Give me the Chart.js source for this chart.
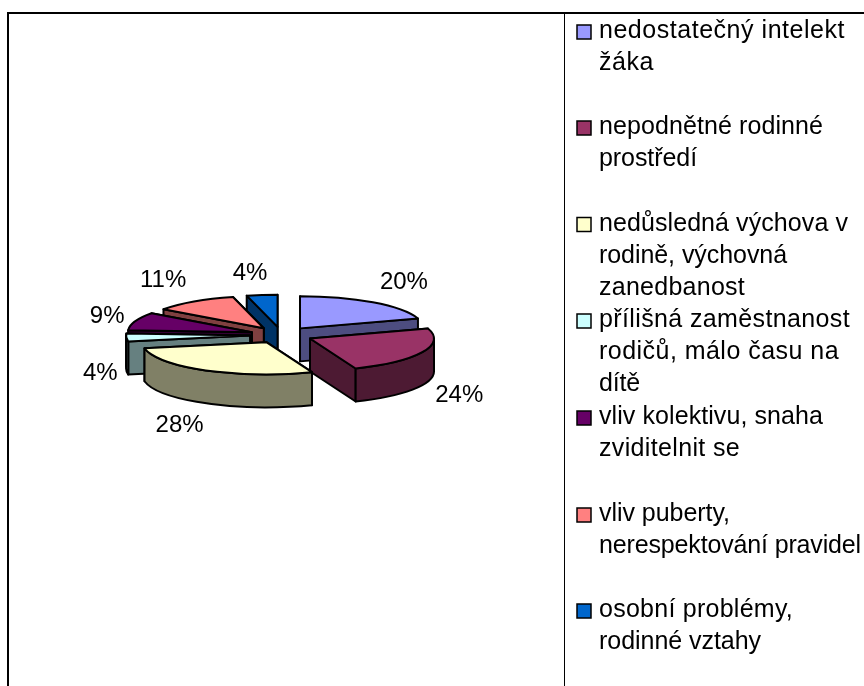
<!DOCTYPE html>
<html>
<head>
<meta charset="utf-8">
<style>
  html, body { margin: 0; padding: 0; background: #fff; }
  #wrap { position: relative; width: 864px; height: 686px; overflow: hidden; }
</style>
<script src="https://cdn.jsdelivr.net/npm/chart.js@4"></script>
</head>
<body>
<div id="wrap"><canvas id="chart" width="864" height="686"></canvas></div>
<script>
const categories = [
  ["nedostatečný intelekt", "žáka"],
  ["nepodnětné rodinné", "prostředí"],
  ["nedůsledná výchova v", "rodině, výchovná", "zanedbanost"],
  ["přílišná zaměstnanost", "rodičů, málo času na", "dítě"],
  ["vliv kolektivu, snaha", "zviditelnit se"],
  ["vliv puberty,", "nerespektování pravidel"],
  ["osobní problémy,", "rodinné vztahy"]
];
const values = [20, 24, 28, 4, 9, 11, 4];
const topColors = ["#9999FF", "#993366", "#FFFFCC", "#CCFFFF", "#660066", "#FF8080", "#0066CC"];
const sideColors = ["#4D4D80", "#4D1A33", "#808066", "#668080", "#330033", "#804040", "#003366"];

// layout of the fake 3d pie and the excel style legend
const squash = 0.26;
const depth = 33;
const explode = 31.5;
const labelShift = [[31, -22], [37, 41], [-27, 53], [-26, 33.5], [-28, -6.5], [-31, -23], [-12, -24]];
const legendBaselines = [38, 134, 230.5, 327, 424, 521, 617];
const legendLineHeight = 32;
// the legend text in the picture is wider than the font, so each line is stretched to its width
const legendWidths = [[246, 55], [224, 98], [249, 188, 146], [251, 240, 41], [224, 141], [131, 262], [194, 162]];
const labelFont = '24px "Liberation Sans", Arial, sans-serif';
const legendFont = '25px "Liberation Sans", Arial, sans-serif';

function wall(ctx, x, y, r, a, b) {
  ctx.beginPath();
  ctx.ellipse(x, y, r, r * squash, 0, a, b);
  ctx.lineTo(x + r * Math.cos(b), y + r * Math.sin(b) * squash + depth);
  ctx.ellipse(x, y + depth, r, r * squash, 0, b, a, true);
  ctx.closePath();
  ctx.fill();
  ctx.stroke();
}

function slice3d(ctx, arc, i) {
  const { x, y, startAngle, endAngle, outerRadius } = arc.getProps(["x", "y", "startAngle", "endAngle", "outerRadius"]);
  const mid = (startAngle + endAngle) / 2;
  const ax = x + Math.cos(mid) * explode;
  const ay = y + Math.sin(mid) * explode * squash;
  ctx.lineWidth = 2;
  ctx.lineJoin = "round";
  ctx.strokeStyle = "#000";
  ctx.fillStyle = sideColors[i];

  // flat sides, back one first
  const rimY = a => Math.sin(a);
  [startAngle, endAngle].sort((p, q) => rimY(p) - rimY(q)).forEach(a => {
    const px = ax + outerRadius * Math.cos(a);
    const py = ay + outerRadius * Math.sin(a) * squash;
    ctx.beginPath();
    ctx.moveTo(ax, ay);
    ctx.lineTo(px, py);
    ctx.lineTo(px, py + depth);
    ctx.lineTo(ax, ay + depth);
    ctx.closePath();
    ctx.fill();
    ctx.stroke();
  });

  // round side, only the part that faces the viewer
  const a = Math.max(startAngle, 0);
  const b = Math.min(endAngle, Math.PI);
  if (a < b) wall(ctx, ax, ay, outerRadius, a, b);

  ctx.fillStyle = topColors[i];
  ctx.beginPath();
  ctx.moveTo(ax, ay);
  ctx.ellipse(ax, ay, outerRadius, outerRadius * squash, 0, startAngle, endAngle);
  ctx.closePath();
  ctx.fill();
  ctx.stroke();
}

function stretchedText(ctx, text, x, y, width) {
  ctx.letterSpacing = "0px";
  const extra = (width - ctx.measureText(text).width) / text.length;
  ctx.letterSpacing = extra + "px";
  ctx.fillText(text, x, y);
  ctx.letterSpacing = "0px";
}

const pie3d = {
  id: "pie3d",
  beforeDraw(chart) {
    const ctx = chart.ctx;
    ctx.save();
    ctx.fillStyle = "#fff";
    ctx.fillRect(0, 0, chart.width, chart.height);
    ctx.fillStyle = "#000";
    ctx.fillRect(7, 12, 857, 2);
    ctx.fillRect(7, 12, 2, 674);
    ctx.fillRect(564, 12, 1, 674);
    ctx.restore();
  },
  beforeDatasetDraw(chart, args) {
    const ctx = chart.ctx;
    const arcs = args.meta.data;
    const midSin = arc => Math.sin((arc.startAngle + arc.endAngle) / 2);
    const order = arcs.map((arc, i) => i).sort((p, q) => midSin(arcs[p]) - midSin(arcs[q]));
    ctx.save();
    order.forEach(i => slice3d(ctx, arcs[i], i));
    ctx.restore();
    return false;
  },
  afterDraw(chart) {
    const ctx = chart.ctx;
    const arcs = chart.getDatasetMeta(0).data;
    const total = values.reduce((s, v) => s + v, 0);
    ctx.save();
    ctx.font = labelFont;
    ctx.fillStyle = "#000";

    ctx.textAlign = "center";
    ctx.textBaseline = "middle";
    arcs.forEach((arc, i) => {
      const mid = (arc.startAngle + arc.endAngle) / 2;
      const r = arc.outerRadius + explode;
      const lx = arc.x + Math.cos(mid) * r + labelShift[i][0];
      const ly = arc.y + Math.sin(mid) * r * squash + labelShift[i][1] + 2;
      ctx.fillText(Math.round(values[i] / total * 100) + "%", lx, ly);
    });

    ctx.font = legendFont;
    ctx.textAlign = "left";
    ctx.textBaseline = "alphabetic";
    ctx.lineWidth = 1.5;
    categories.forEach((lines, i) => {
      const base = legendBaselines[i];
      ctx.fillStyle = topColors[i];
      ctx.strokeStyle = "#000";
      ctx.fillRect(577, base - 13, 14, 14);
      ctx.strokeRect(577, base - 13, 14, 14);
      ctx.fillStyle = "#000";
      lines.forEach((line, n) => stretchedText(ctx, line, 599, base + n * legendLineHeight, legendWidths[i][n]));
    });
    ctx.restore();
  }
};

new Chart(document.getElementById("chart"), {
  type: "pie",
  data: {
    labels: categories,
    datasets: [{
      data: values,
      backgroundColor: topColors,
      borderWidth: 0,
      offset: explode
    }]
  },
  options: {
    responsive: false,
    animation: false,
    layout: { padding: { left: 141.75, right: 442.75, top: 195.25, bottom: 211.25 } },
    plugins: { legend: { display: false }, tooltip: { enabled: false } }
  },
  plugins: [pie3d]
});
</script>
</body>
</html>
